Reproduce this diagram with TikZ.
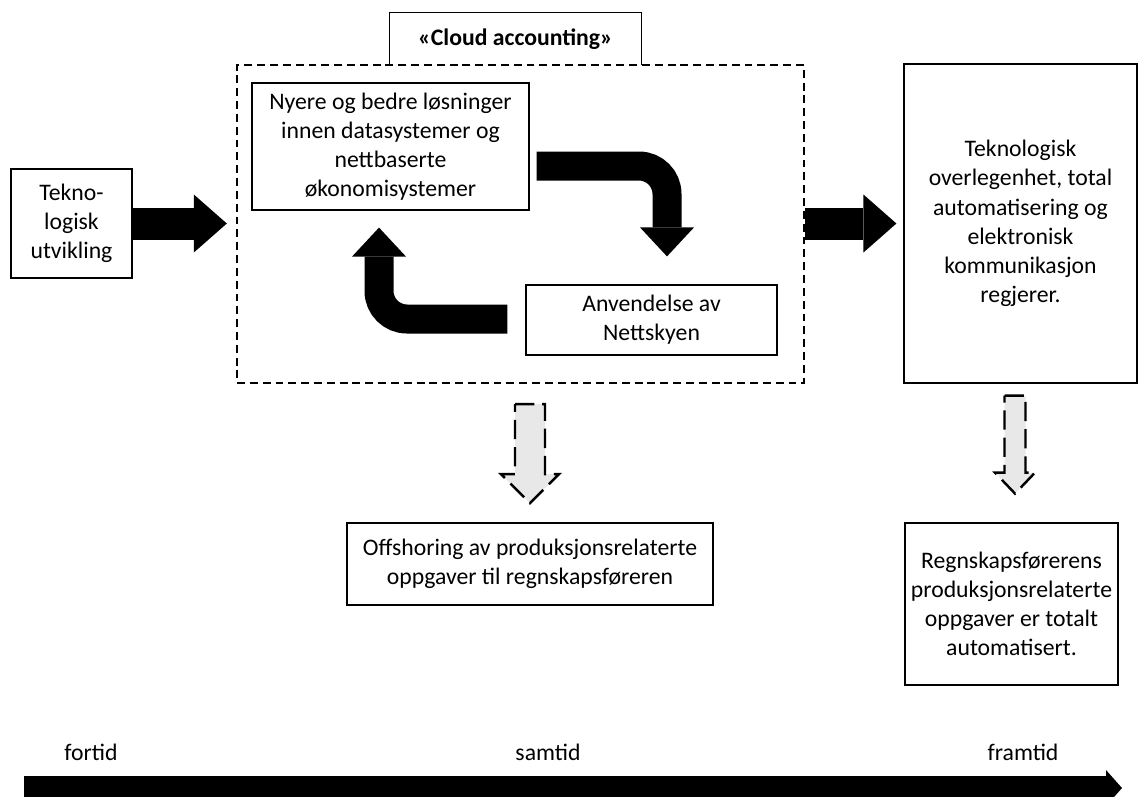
\documentclass[tikz,border=0pt]{standalone}
\usepackage{fontspec}
\setmainfont{Carlito}
\usepackage{tikz}
\usetikzlibrary{positioning,
                arrows.meta}                % arrow tips

\tikzset{
  box/.style={draw, line width=0.7pt, align=center, inner sep=0pt},
  frame/.style={draw, line width=1.4pt, dash pattern=on 4.5pt off 2.8pt},
  bigarrow/.style={line width=0.64cm, -{Triangle[length=0.66cm, width=1.16cm, line width=0pt]}},
  bendarrow/.style={line width=0.58cm, rounded corners=0.56cm, -{Triangle[length=0.58cm, width=1.08cm, line width=0pt]}},
  grayarrow/.style={fill=gray!18, draw, line width=1.4pt, dash pattern=on 11pt off 4.5pt},
  label/.style={inner sep=0pt}
}

\begin{document}
\begin{tikzpicture}[x=0.02cm, y=-0.02cm, font=\fontsize{13.5pt}{16.6pt}\selectfont]
        \useasboundingbox (0,0) rectangle (1139,796);
        \clip (0,0) rectangle (1139,796);

        % cloud accounting frame
        \node[frame, minimum width=11.34cm, minimum height=6.36cm] (cloud) at (520.5,224) {};
        \node[inner sep=0pt, minimum width=5.02cm, minimum height=1.04cm, font=\fontsize{13.5pt}{16.6pt}\selectfont\bfseries] (title) at (515.5,39) {«Cloud accounting»};
        \draw[line width=0.7pt] (title.south west) -- (title.north west) -- (title.north east) -- (title.south east);

        \node[box, minimum width=5.54cm, minimum height=2.54cm] (nyere) at (390.5,146.5)
            {Nyere og bedre løsninger\\innen datasystemer og\\nettbaserte\\økonomisystemer};
        \node[box, minimum width=5.02cm, minimum height=1.4cm] (anv) at (651.5,320)
            {Anvendelse av\\Nettskyen};

        % the loop
        \draw[bendarrow] ([shift={(7,19.5)}]nyere.east) -- ([shift={(15.5,19.5)}]nyere.east -| anv.north)
            -- ([shift={(15.5,-28)}]anv.north);
        \draw[bendarrow] ([shift={(-18,-1)}]anv.west) -- ([shift={(-11.5,-1)}]anv.west -| nyere.south)
            -- ([shift={(-11.5,17)}]nyere.south);

        \node[box, minimum width=2.42cm, minimum height=2.18cm] (tekno) at (71.5,223.5)
            {Tekno-\\logisk\\utvikling};
        \node[box, minimum width=4.66cm, minimum height=6.38cm] (future) at (1020.5,223.5)
            {Teknologisk\\overlegenhet, total\\automatisering og\\elektronisk\\kommunikasjon\\regjerer.};

        \draw[bigarrow, shorten >=0.18cm] (tekno.east) -- (tekno.east -| cloud.west);
        \draw[bigarrow, shorten >=0.14cm] (cloud.east |- future.west) -- (future.west);

        \node[box, minimum width=7.32cm, minimum height=1.64cm] (offshore) at (530,564)
            {Offshoring av produksjonsrelaterte\\oppgaver til regnskapsføreren};
        \node[box, minimum width=4.26cm, minimum height=3.24cm] (auto) at (1011.5,604)
            {Regnskapsførerens\\produksjonsrelaterte\\oppgaver er totalt\\automatisert.};

        % dashed grey arrows
        \draw[grayarrow] ([shift={(-5.5,20)}]cloud.south) -- ++(30,0) -- ++(0,70) -- ++(14,0)
            -- ++(-29,29) -- ++(-29,-29) -- ++(14,0) -- cycle;
        \draw[grayarrow] ([shift={(-16,12)}]future.south) -- ++(21,0) -- ++(0,77) -- ++(9.5,0)
            -- ++(-20,21) -- ++(-20,-21) -- ++(9.5,0) -- cycle;

        % time line
        \node[label] (past) at (91,752) {fortid};
        \node[label] (now) at (548,752) {samtid};
        \node[label] (later) at (1023,752) {framtid};
        \coordinate (tl) at (24,788);
        \coordinate (tr) at (1122,788);
        \draw[line width=0.48cm, -{Triangle[length=0.32cm, width=0.72cm, line width=0pt]}] (tl) -- (tr);
\end{tikzpicture}
\end{document}
